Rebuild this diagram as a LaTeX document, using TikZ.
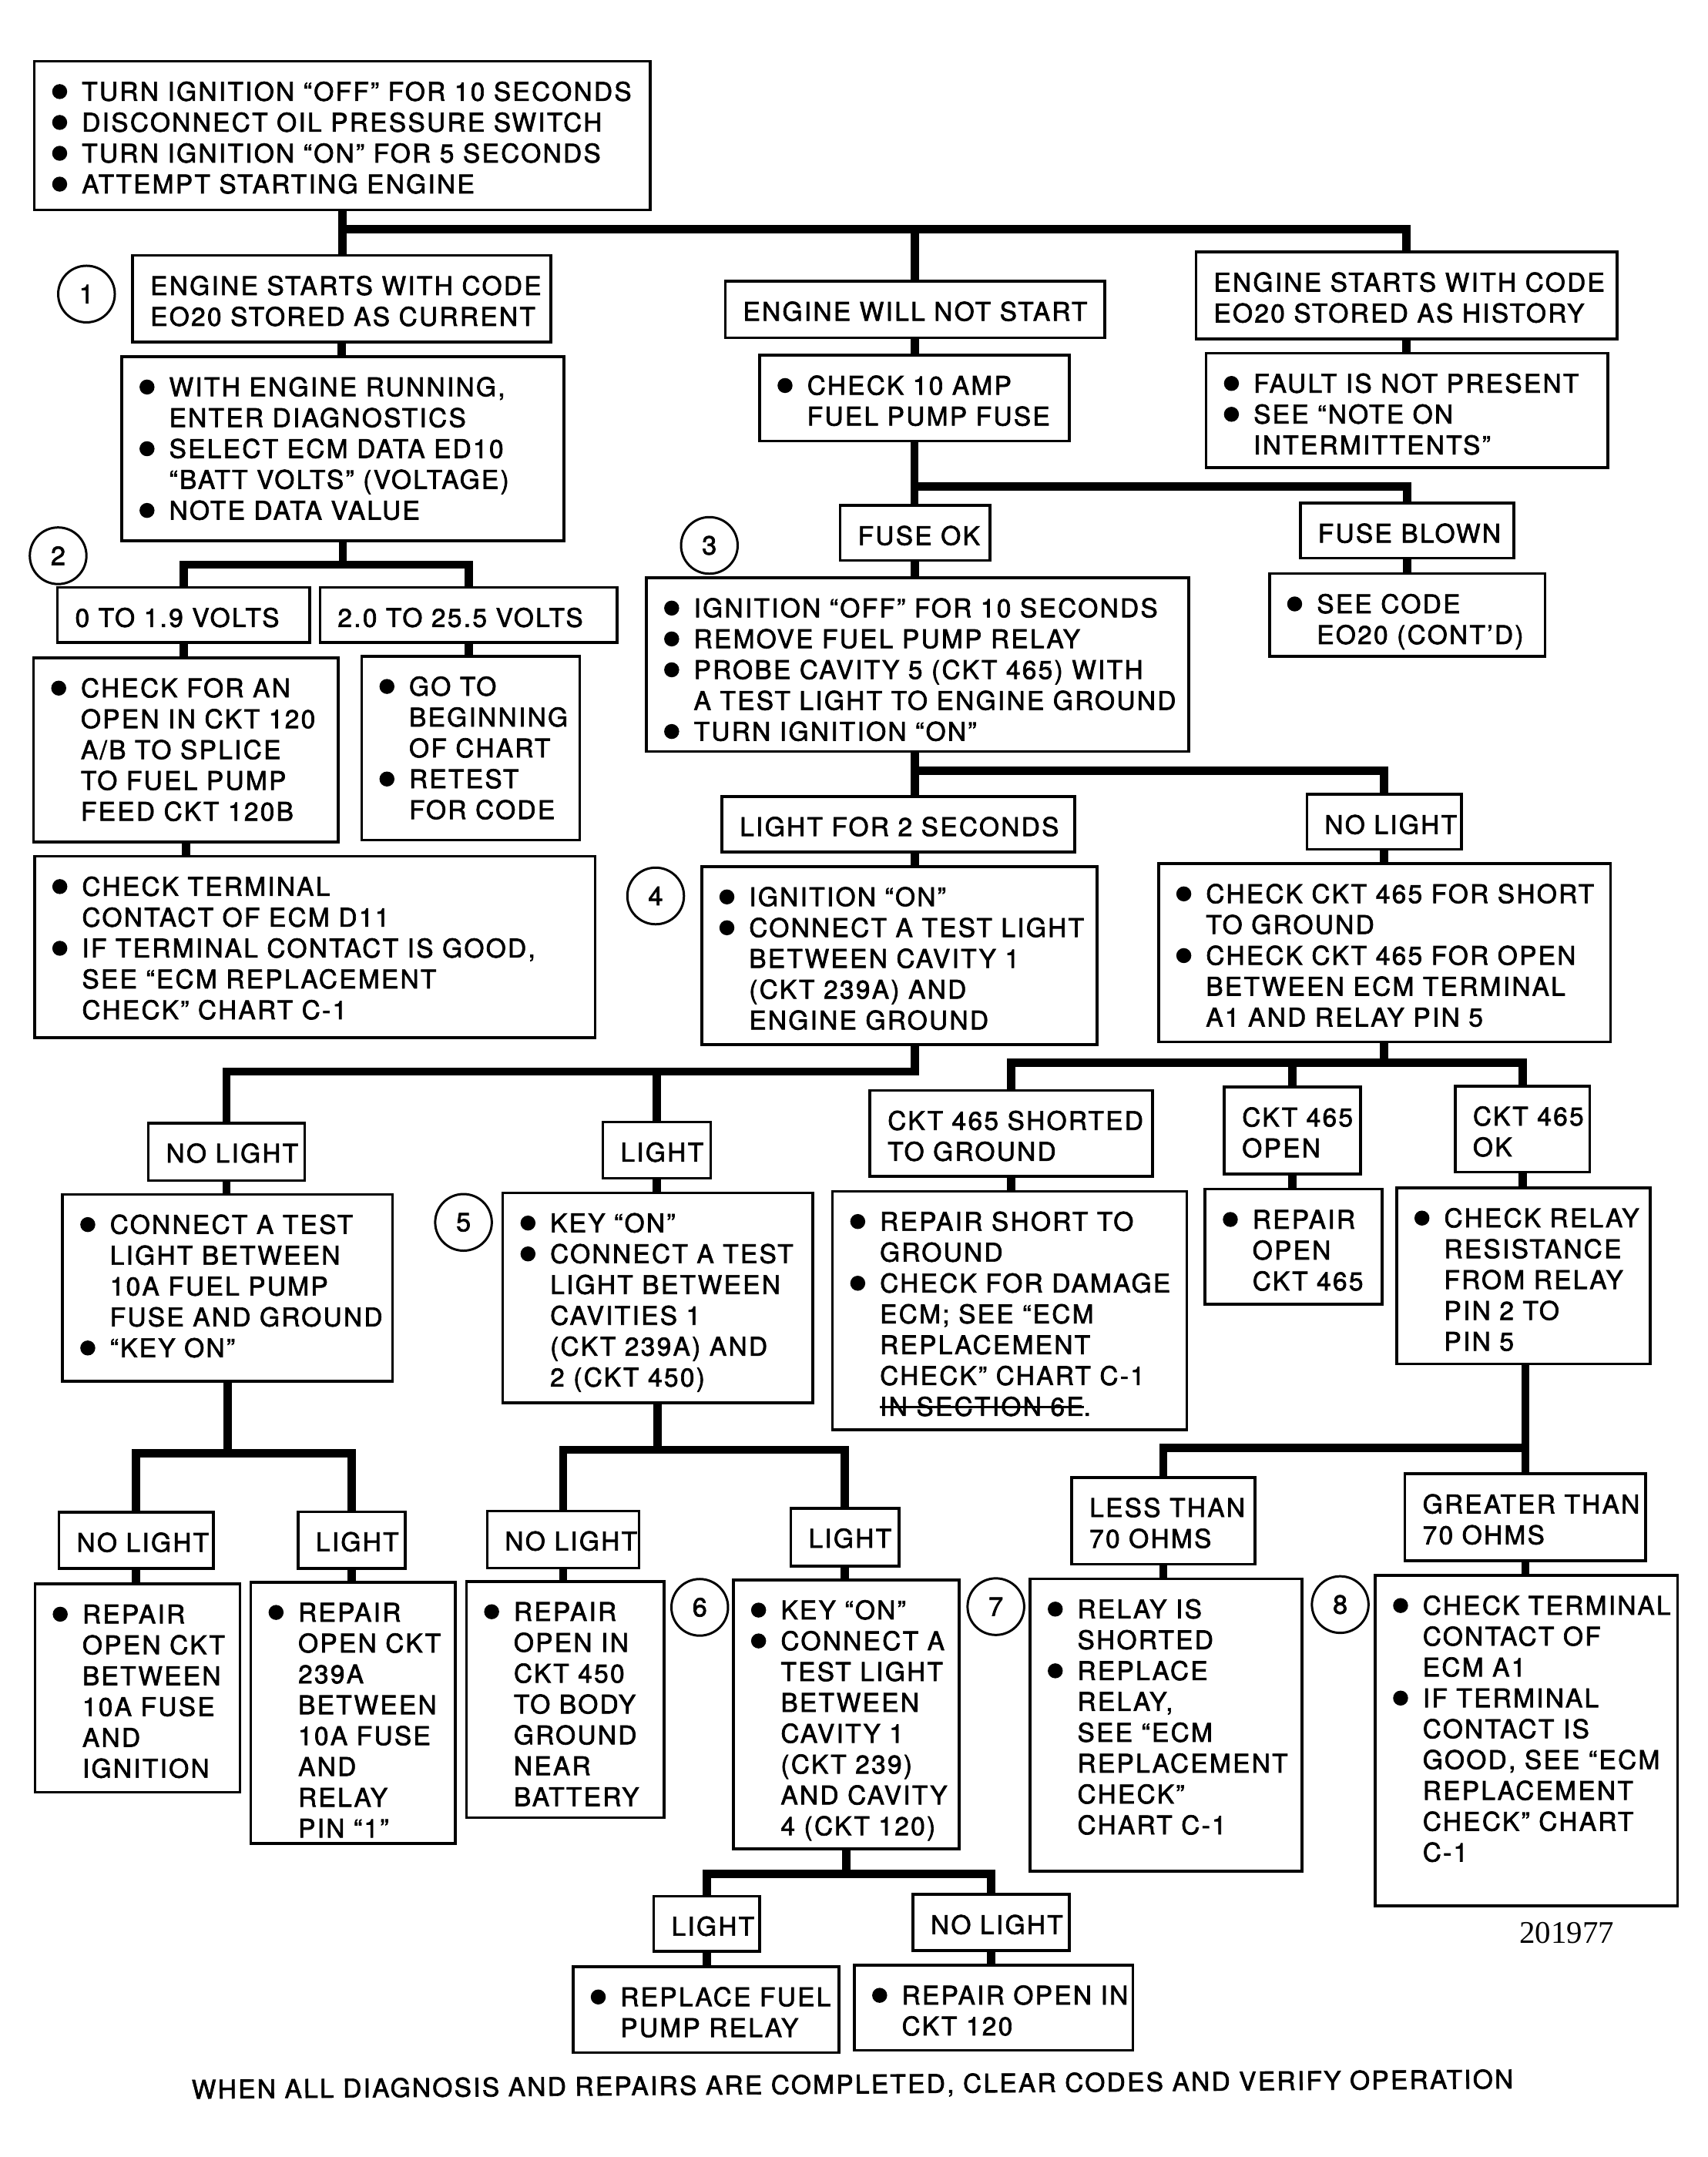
\documentclass[tikz,border=0pt]{standalone}
\usepackage{fontspec}
\setmainfont{TeX Gyre Heros}[LetterSpace=7,FakeBold=2]
\newfontfamily\codefont{Liberation Serif}
\newsavebox\strikebox
\newcommand\cstrike[1]{\sbox\strikebox{#1}\rlap{\rule[2.6pt]{\wd\strikebox}{0.75pt}}\usebox\strikebox}
\newcommand\cbul{\makebox[9.7pt][l]{\tikz[baseline=0pt]\fill (2.45pt,3pt) circle[radius=2.45pt];}}
\newcommand\cind{\hspace*{9.7pt}}
\newcommand\cnode[7][]{%
  \pgfmathsetmacro\cbw{(#5-#3)*0.45}%
  \pgfmathsetmacro\cbh{(#6-#4)*0.45}%
  \pgfmathsetmacro\cbd{\cbh-12.9}%
  \pgfmathsetmacro\cbt{\cbw-11.6}%
  \node[chartbox,#1,minimum width=\cbw pt,minimum height=\cbh pt,text height=12.9pt,text depth=\cbd pt] (#2) at ({(#3+#5)/2},{(#4+#6)/2})
    {\makebox[\cbt pt][l]{\begin{tabular}[t]{@{}l@{}}#7\end{tabular}}};}
\newcommand\vlink[2]{\draw[conn] (#1.south) -- (#1.south |- #2.north);}
\begin{document}
\begin{tikzpicture}[x=0.45pt,y=-0.45pt,
  chartbox/.style={draw,line width=0.9pt,rectangle,inner sep=0pt,font=\fontsize{8.4}{10.08}\selectfont},
  conn/.style={line width=2.7pt},
  numcirc/.style={draw,circle,line width=0.75pt,minimum size=18.5pt,inner sep=0pt,font=\fontsize{8.6}{10.08}\selectfont}]
\useasboundingbox (0,0) rectangle (1240,1566.1);

% ---------------- boxes ----------------
\cnode{top}{25}{44.5}{472}{152.5}{\cbul TURN IGNITION “OFF” FOR 10 SECONDS\\ \cbul DISCONNECT OIL PRESSURE SWITCH\\ \cbul TURN IGNITION “ON” FOR 5 SECONDS\\ \cbul ATTEMPT STARTING ENGINE}
\cnode{b1}{96.3}{185.5}{400}{248.4}{ENGINE STARTS WITH CODE\\ EO20 STORED AS CURRENT}
\cnode{ns}{526.6}{204.2}{801.9}{245.2}{ENGINE WILL NOT START}
\cnode{hist}{868.3}{183}{1174}{246}{ENGINE STARTS WITH CODE\\ EO20 STORED AS HISTORY}
\cnode{act}{88.4}{259}{409.5}{392.7}{\cbul WITH ENGINE RUNNING,\\ \cind ENTER DIAGNOSTICS\\ \cbul SELECT ECM DATA ED10\\ \cind “BATT VOLTS” (VOLTAGE)\\ \cbul NOTE DATA VALUE}
\cnode{chk10}{551.6}{257.9}{776.3}{320.1}{\cbul CHECK 10 AMP\\ \cind FUEL PUMP FUSE}
\cnode{fault}{875.7}{256.4}{1167.3}{339.6}{\cbul FAULT IS NOT PRESENT\\ \cbul SEE “NOTE ON\\ \cind INTERMITTENTS”}
\cnode{v0}{41.7}{426.5}{224.9}{466.4}{0 TO 1.9 VOLTS}
\cnode{v2}{232.3}{426.5}{448}{466.4}{2.0 TO 25.5 VOLTS}
\cnode{fok}{610}{367}{718.7}{407}{FUSE OK}
\cnode{fbl}{944}{365.3}{1099.2}{405.3}{FUSE BLOWN}
\cnode{b3}{469.3}{419.5}{863}{545.5}{\cbul IGNITION “OFF” FOR 10 SECONDS\\ \cbul REMOVE FUEL PUMP RELAY\\ \cbul PROBE CAVITY 5 (CKT 465) WITH\\ \cind A TEST LIGHT TO ENGINE GROUND\\ \cbul TURN IGNITION “ON”}
\cnode{see}{921.6}{416.5}{1121.6}{476.4}{\cbul SEE CODE\\ \cind EO20 (CONT’D)}
\cnode{chkan}{24.3}{477.6}{245.5}{611.2}{\cbul CHECK FOR AN\\ \cind OPEN IN CKT 120\\ \cind A/B TO SPLICE\\ \cind TO FUEL PUMP\\ \cind FEED CKT 120B}
\cnode{goto}{262.6}{476.4}{421}{610}{\cbul GO TO\\ \cind BEGINNING\\ \cind OF CHART\\ \cbul RETEST\\ \cind FOR CODE}
\cnode{d11}{25.1}{621.7}{432}{753.5}{\cbul CHECK TERMINAL\\ \cind CONTACT OF ECM D11\\ \cbul IF TERMINAL CONTACT IS GOOD,\\ \cind SEE “ECM REPLACEMENT\\ \cind CHECK” CHART C-1}
\cnode{lf2}{524.2}{578.3}{780.2}{618.6}{LIGHT FOR 2 SECONDS}
\cnode{nl1}{948.8}{576.8}{1061}{616.7}{NO LIGHT}
\cnode{b4}{509.4}{629.2}{796.6}{758.5}{\cbul IGNITION “ON”\\ \cbul CONNECT A TEST LIGHT\\ \cind BETWEEN CAVITY 1\\ \cind (CKT 239A) AND\\ \cind ENGINE GROUND}
\cnode{s465}{841.1}{627}{1169.2}{756.5}{\cbul CHECK CKT 465 FOR SHORT\\ \cind TO GROUND\\ \cbul CHECK CKT 465 FOR OPEN\\ \cind BETWEEN ECM TERMINAL\\ \cind A1 AND RELAY PIN 5}
\cnode{nl2}{107.7}{815.4}{221.2}{857.2}{NO LIGHT}
\cnode{li2}{437.6}{814.7}{516}{855.4}{LIGHT}
\cnode{sh}{631.6}{791.7}{836.6}{854}{CKT 465 SHORTED\\ TO GROUND}
\cnode{op}{888.9}{789.2}{987.6}{852.4}{CKT 465\\ OPEN}
\cnode{ok}{1056.5}{788.5}{1154.1}{850.9}{CKT 465\\ OK}
\cnode{ct}{45.4}{867.1}{285}{1002.7}{\cbul CONNECT A TEST\\ \cind LIGHT BETWEEN\\ \cind 10A FUEL PUMP\\ \cind FUSE AND GROUND\\ \cbul “KEY ON”}
\cnode{b5}{365}{866}{590}{1018.5}{\cbul KEY “ON”\\ \cbul CONNECT A TEST\\ \cind LIGHT BETWEEN\\ \cind CAVITIES 1\\ \cind (CKT 239A) AND\\ \cind 2 (CKT 450)}
\cnode{rs}{604.4}{864.9}{861.7}{1038.2}{\cbul REPAIR SHORT TO\\ \cind GROUND\\ \cbul CHECK FOR DAMAGE\\ \cind ECM; SEE “ECM\\ \cind REPLACEMENT\\ \cind CHECK” CHART C-1\\ \cind \cstrike{IN SECTION 6E}.}
\cnode{ro}{874.9}{863.4}{1003.4}{947}{\cbul REPAIR\\ \cind OPEN\\ \cind CKT 465}
\cnode{cr}{1014}{862.4}{1198.2}{990.2}{\cbul CHECK RELAY\\ \cind RESISTANCE\\ \cind FROM RELAY\\ \cind PIN 2 TO\\ \cind PIN 5}
\cnode{nl3}{42.8}{1098}{154.9}{1138.7}{NO LIGHT}
\cnode{li3}{216.4}{1097.6}{294.3}{1138.7}{LIGHT}
\cnode{nl4}{353.7}{1097}{464}{1138.5}{NO LIGHT}
\cnode{li4}{574.1}{1095}{652.7}{1137}{LIGHT}
\cnode{less}{778.1}{1072.7}{911}{1135.6}{LESS THAN\\ 70 OHMS}
\cnode{grt}{1020}{1070.1}{1194.8}{1133.3}{GREATER THAN\\ 70 OHMS}
\cnode{r1}{25.4}{1150}{174.2}{1301.3}{\cbul REPAIR\\ \cind OPEN CKT\\ \cind BETWEEN\\ \cind 10A FUSE\\ \cind AND\\ \cind IGNITION}
\cnode{r2}{182.1}{1148.7}{330.4}{1338.5}{\cbul REPAIR\\ \cind OPEN CKT\\ \cind 239A\\ \cind BETWEEN\\ \cind 10A FUSE\\ \cind AND\\ \cind RELAY\\ \cind PIN “1”}
\cnode{r3}{338.6}{1148.2}{482}{1319.8}{\cbul REPAIR\\ \cind OPEN IN\\ \cind CKT 450\\ \cind TO BODY\\ \cind GROUND\\ \cind NEAR\\ \cind BATTERY}
\cnode{b6}{532.4}{1147}{696.3}{1342.3}{\cbul KEY “ON”\\ \cbul CONNECT A\\ \cind TEST LIGHT\\ \cind BETWEEN\\ \cind CAVITY 1\\ \cind (CKT 239)\\ \cind AND CAVITY\\ \cind 4 (CKT 120)}
\cnode{b7}{747.8}{1146.3}{945.4}{1358.6}{\cbul RELAY IS\\ \cind SHORTED\\ \cbul REPLACE\\ \cind RELAY,\\ \cind SEE “ECM\\ \cind REPLACEMENT\\ \cind CHECK”\\ \cind CHART C-1}
\cnode{b8}{998.5}{1143.7}{1218}{1383.7}{\cbul CHECK TERMINAL\\ \cind CONTACT OF\\ \cind ECM A1\\ \cbul IF TERMINAL\\ \cind CONTACT IS\\ \cind GOOD, SEE “ECM\\ \cind REPLACEMENT\\ \cind CHECK” CHART\\ \cind C-1}
\cnode{li5}{474.6}{1376.7}{551.6}{1416.7}{LIGHT}
\cnode{nl5}{662.8}{1375.5}{776.3}{1416.2}{NO LIGHT}
\cnode{rep}{416}{1427.9}{609.2}{1490.3}{\cbul REPLACE FUEL\\ \cind PUMP RELAY}
\cnode{r120}{620.3}{1426.7}{822.4}{1488.6}{\cbul REPAIR OPEN IN\\ \cind CKT 120}

% ---------------- step numbers ----------------
\node[numcirc] (n1) at (62.8,213.5) {1};
\node[numcirc] (n2) at (42.2,403.5) {2};
\node[numcirc] (n3) at (515,396) {3};
\node[numcirc] (n4) at (476,650.5) {4};
\node[numcirc] (n5) at (336.5,887.5) {5};
\node[numcirc] (n6) at (508,1167) {6};
\node[numcirc] (n7) at (723,1166.5) {7};
\node[numcirc] (n8) at (973,1165) {8};

% ---------------- junctions ----------------
\coordinate (j1) at (248,166.5);
\coordinate (j2) at (248,410);
\coordinate (j3) at (664,353);
\coordinate (j4) at (664,559.5);
\coordinate (j5) at (664,778);
\coordinate (j6) at (1005,771.5);
\coordinate (j7) at (165,1055);
\coordinate (j8) at (477,1052.6);
\coordinate (j9) at (1107,1051.4);
\coordinate (j10) at (614,1360.5);

% ---------------- connectors ----------------
\draw[conn] (top.south) -- (top.south |- b1.north);
\draw[conn] (top.south |- j1) -| (hist.north);
\draw[conn] (ns.north |- j1) -- (ns.north);
\vlink{b1}{act}
\draw[conn] (act.south) -- (act.south |- j2);
\draw[conn] (v0.north) |- (v2.north |- j2) -- (v2.north);
\vlink{v0}{chkan}
\vlink{v2}{goto}
\vlink{chkan}{d11}
\vlink{ns}{chk10}
\vlink{hist}{fault}
\draw[conn] (chk10.south) -- (chk10.south |- fok.north);
\draw[conn] (chk10.south |- j3) -| (fbl.north);
\vlink{fbl}{see}
\draw[conn] (fok.south) -- (fok.south |- b3.north);
\draw[conn] (fok.south |- b3.south) -- (fok.south |- lf2.north);
\draw[conn] (fok.south |- j4) -| (nl1.north);
\draw[conn] (fok.south |- lf2.south) -- (fok.south |- b4.north);
\draw[conn] (fok.south |- b4.south) -- (fok.south |- j5) -| (nl2.north);
\draw[conn] (li2.north |- j5) -- (li2.north);
\vlink{nl1}{s465}
\draw[conn] (nl1.south |- s465.south) -- (nl1.south |- j6);
\draw[conn] (sh.north) |- (ok.north |- j6) -- (ok.north);
\draw[conn] (op.north |- j6) -- (op.north);
\vlink{nl2}{ct}
\vlink{li2}{b5}
\vlink{sh}{rs}
\vlink{op}{ro}
\vlink{ok}{cr}
\draw[conn] (ct.south) -- (ct.south |- j7);
\draw[conn] (nl3.north) |- (li3.north |- j7) -- (li3.north);
\draw[conn] (b5.south) -- (b5.south |- j8);
\draw[conn] (nl4.north) |- (li4.north |- j8) -- (li4.north);
\draw[conn] (grt.north |- cr.south) -- (grt.north);
\draw[conn] (less.north) |- (grt.north |- j9);
\vlink{nl3}{r1}
\vlink{li3}{r2}
\vlink{nl4}{r3}
\vlink{li4}{b6}
\vlink{less}{b7}
\vlink{grt}{b8}
\draw[conn] (b6.south) -- (b6.south |- j10);
\draw[conn] (li5.north) |- (nl5.north |- j10) -- (nl5.north);
\vlink{li5}{rep}
\vlink{nl5}{r120}

% ---------------- free texts ----------------
\node[anchor=base west,inner sep=0pt,font=\codefont\fontsize{10.3}{12}\selectfont] (code) at (1102.7,1411) {201977};
\node[anchor=base,inner sep=0pt,rotate=0.45,font=\fontsize{8.4}{10.08}\selectfont] (foot) at (619,1520) {WHEN ALL DIAGNOSIS AND REPAIRS ARE COMPLETED, CLEAR CODES AND VERIFY OPERATION};
\end{tikzpicture}
\end{document}
